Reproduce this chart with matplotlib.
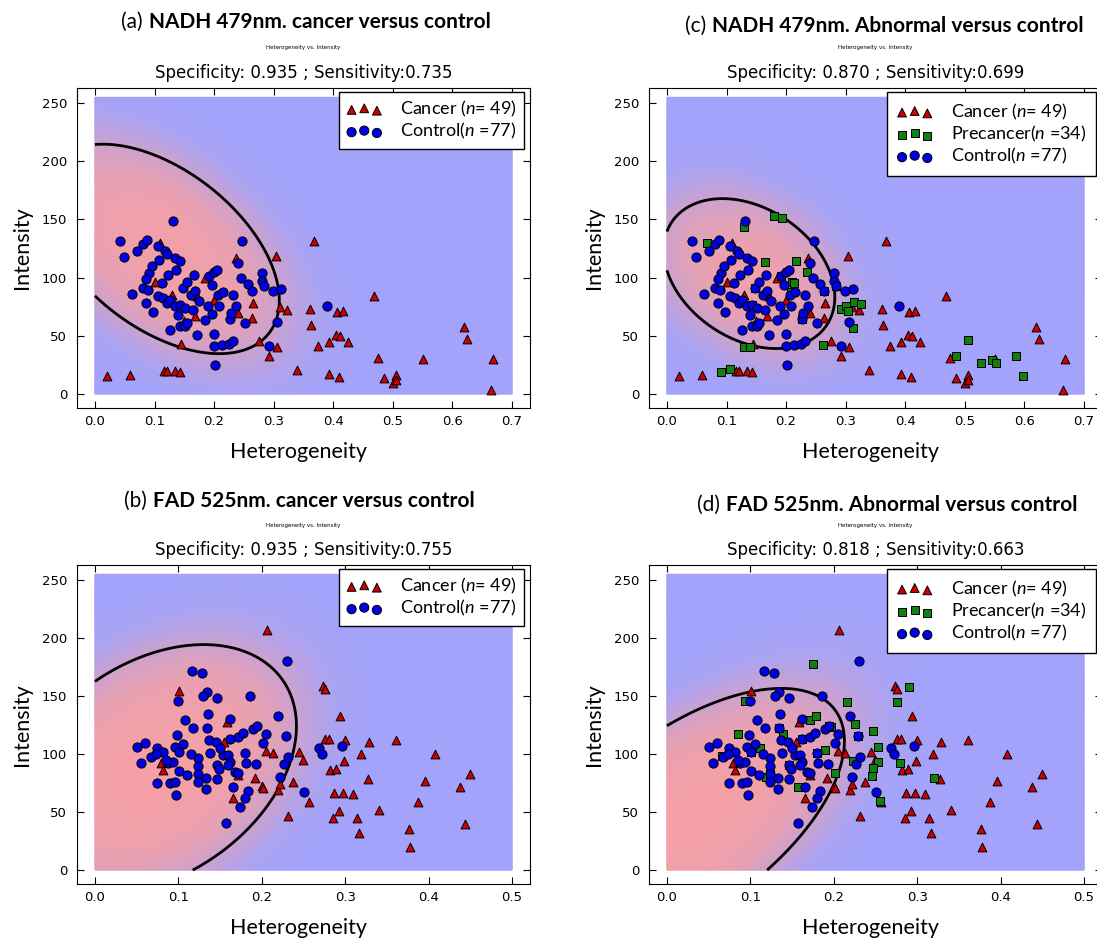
import numpy as np
import matplotlib

matplotlib.use("Agg")
import matplotlib.pyplot as plt
from matplotlib.colors import LinearSegmentedColormap

# ---- values ---------------------------------------------------------------
nadh_control_x = [0.131, 0.042, 0.049, 0.070, 0.080, 0.088, 0.105, 0.108, 0.117, 0.121,
                  0.134, 0.142, 0.136, 0.122, 0.090, 0.085, 0.081, 0.089, 0.085, 0.098,
                  0.106, 0.115, 0.121, 0.126, 0.134, 0.140, 0.143, 0.148, 0.151, 0.143,
                  0.151, 0.126, 0.155, 0.164, 0.162, 0.168, 0.167, 0.171, 0.185, 0.190,
                  0.192, 0.197, 0.200, 0.205, 0.197, 0.207, 0.208, 0.200, 0.200, 0.214,
                  0.225, 0.232, 0.201, 0.227, 0.229, 0.236, 0.232, 0.240, 0.247, 0.252,
                  0.257, 0.264, 0.281, 0.280, 0.283, 0.299, 0.313, 0.305, 0.292, 0.389,
                  0.063, 0.112, 0.175, 0.215, 0.245, 0.095, 0.155]
nadh_control_y = [148.3, 131.1, 117.4, 123.1, 128.9, 132.3, 127.4, 114.8, 122.6, 120.6,
                  116.8, 114.0, 106.8, 102.0, 104.0, 99.1, 91.1, 89.6, 78.2, 70.2,
                  83.9, 82.5, 78.2, 81.0, 75.3, 68.1, 76.7, 91.1, 73.9, 58.1,
                  58.1, 55.2, 61.0, 71.9, 85.3, 88.2, 102.0, 50.9, 63.8, 75.9,
                  101.7, 94.0, 104.5, 106.8, 69.0, 84.8, 75.9, 51.5, 41.5, 42.4,
                  42.9, 45.2, 25.2, 64.4, 69.6, 75.3, 84.8, 112.5, 131.7, 61.0,
                  94.5, 88.2, 104.0, 96.8, 92.5, 88.2, 90.2, 61.5, 41.5, 75.3,
                  86.0, 95.0, 80.0, 88.0, 100.0, 110.0, 96.0]

nadh_cancer_x = [0.021, 0.059, 0.109, 0.101, 0.116, 0.121, 0.135, 0.143, 0.145, 0.171,
                 0.168, 0.236, 0.199, 0.265, 0.263, 0.275, 0.292, 0.305, 0.304, 0.310,
                 0.323, 0.339, 0.361, 0.362, 0.368, 0.374, 0.392, 0.393, 0.404, 0.407,
                 0.411, 0.417, 0.409, 0.424, 0.468, 0.475, 0.485, 0.501, 0.505, 0.506,
                 0.551, 0.619, 0.625, 0.668, 0.664, 0.150, 0.130, 0.240, 0.185]
nadh_cancer_y = [15.7, 16.6, 130.2, 95.9, 20.0, 20.0, 20.0, 18.6, 43.2, 83.9,
                 66.7, 116.8, 81.0, 78.1, 65.2, 45.2, 32.9, 40.3, 118.2, 74.7,
                 71.8, 20.8, 73.2, 58.9, 131.1, 40.9, 44.6, 17.4, 50.9, 70.1,
                 49.5, 71.0, 14.6, 44.6, 84.4, 30.9, 13.7, 9.4, 16.6, 12.3,
                 30.0, 57.5, 47.2, 30.0, 3.1, 62.4, 85.0, 70.0, 100.0]

nadh_pre_x = [0.179, 0.193, 0.130, 0.068, 0.164, 0.216, 0.235, 0.210, 0.214, 0.208,
              0.292, 0.301, 0.314, 0.325, 0.304, 0.312, 0.262, 0.129, 0.139, 0.090,
              0.106, 0.506, 0.485, 0.527, 0.545, 0.553, 0.585, 0.597,
              0.148, 0.192, 0.264, 0.143, 0.227, 0.283]
nadh_pre_y = [152.6, 151.7, 143.4, 129.7, 113.1, 114.5, 104.5, 95.9, 95.3, 88.1,
              73.3, 75.8, 78.7, 77.5, 71.0, 56.6, 41.8, 40.0, 40.3, 18.6,
              21.4, 46.6, 32.3, 26.6, 29.4, 27.1, 32.3, 15.1,
              91.1, 101.7, 88.2, 76.7, 64.4, 92.5]

fad_control_x = [0.116, 0.128, 0.134, 0.130, 0.146, 0.100, 0.186, 0.230, 0.108, 0.117,
                 0.135, 0.134, 0.162, 0.219, 0.098, 0.105, 0.096, 0.101, 0.137, 0.145,
                 0.162, 0.172, 0.177, 0.189, 0.194, 0.205, 0.202, 0.229, 0.051, 0.060,
                 0.067, 0.074, 0.082, 0.073, 0.055, 0.087, 0.094, 0.124, 0.138, 0.154,
                 0.160, 0.162, 0.180, 0.124, 0.146, 0.149, 0.159, 0.168, 0.171, 0.181,
                 0.193, 0.101, 0.110, 0.123, 0.133, 0.123, 0.146, 0.074, 0.090, 0.096,
                 0.097, 0.133, 0.165, 0.184, 0.180, 0.174, 0.157, 0.222, 0.227, 0.231,
                 0.251, 0.269, 0.272, 0.296, 0.115, 0.150, 0.085]
fad_control_y = [171.8, 170.1, 153.7, 150.0, 148.0, 145.7, 150.0, 180.1, 129.3, 122.9,
                 134.4, 122.9, 130.1, 132.7, 116.3, 108.3, 106.3, 102.0, 112.1, 110.0,
                 112.9, 114.3, 118.4, 121.2, 124.1, 117.2, 109.2, 115.5, 105.7, 109.2,
                 97.7, 104.9, 102.0, 100.0, 91.9, 92.5, 93.3, 96.8, 100.5, 99.1,
                 99.1, 93.3, 100.5, 89.9, 90.5, 86.8, 90.5, 84.2, 83.3, 91.9,
                 91.1, 85.3, 81.9, 82.7, 79.8, 76.1, 78.4, 74.7, 74.7, 76.1,
                 64.6, 69.8, 71.2, 68.1, 61.8, 54.0, 40.2, 80.4, 91.3, 97.7,
                 67.5, 104.9, 100.0, 107.2, 100.0, 105.0, 95.0]

fad_cancer_x = [0.206, 0.101, 0.158, 0.079, 0.082, 0.205, 0.213, 0.171, 0.192, 0.200,
                0.201, 0.166, 0.219, 0.222, 0.238, 0.245, 0.249, 0.232, 0.256, 0.273,
                0.276, 0.294, 0.276, 0.280, 0.300, 0.299, 0.282, 0.289, 0.286, 0.297,
                0.309, 0.293, 0.285, 0.314, 0.316, 0.319, 0.327, 0.329, 0.341, 0.361,
                0.376, 0.378, 0.387, 0.396, 0.408, 0.438, 0.450, 0.443, 0.155]
fad_cancer_y = [206.9, 154.6, 127.3, 92.5, 86.2, 102.6, 100.6, 81.9, 79.0, 72.4,
                70.4, 61.8, 69.0, 73.8, 75.6, 102.0, 94.8, 46.5, 58.9, 158.6,
                155.7, 133.0, 112.6, 112.6, 112.0, 94.2, 86.2, 87.1, 66.6, 66.6,
                65.2, 51.1, 45.1, 44.5, 32.2, 99.7, 78.4, 110.0, 51.7, 112.0,
                35.3, 20.1, 58.9, 77.0, 99.7, 71.2, 82.7, 39.6, 110.0]

fad_pre_x = [0.175, 0.093, 0.216, 0.276, 0.290, 0.085, 0.112, 0.139, 0.172, 0.179,
             0.197, 0.190, 0.225, 0.247, 0.253, 0.223, 0.253, 0.247, 0.246, 0.255,
             0.279, 0.202, 0.157, 0.119, 0.066, 0.320,
             0.134, 0.162, 0.146, 0.101, 0.180, 0.123, 0.229, 0.194]
fad_pre_y = [177.6, 146.0, 144.5, 145.1, 157.4, 117.2, 105.4, 117.2, 129.3, 132.7,
             123.5, 103.4, 125.6, 119.8, 106.3, 94.0, 92.8, 87.6, 81.3, 59.5,
             92.5, 83.3, 71.8, 80.4, 98.5, 79.0,
             122.9, 112.9, 90.5, 102.0, 100.5, 82.7, 115.5, 124.1]

# decision boundaries (where the black curve runs)
bound_a_x = [0.0, 0.031, 0.087, 0.143, 0.199, 0.254, 0.288, 0.309, 0.302, 0.277, 0.243,
             0.187, 0.143, 0.087, 0.031, 0.0]
bound_a_y = [213.3, 215.6, 208.4, 194.1, 174.1, 146.9, 124.0, 87.0, 63.8, 46.6, 36.6,
             33.7, 39.5, 53.8, 72.4, 82.4]
bound_b_x = [0.0, 0.042, 0.082, 0.130, 0.174, 0.214, 0.236, 0.242, 0.234, 0.214, 0.182,
             0.150, 0.116]
bound_b_y = [164.3, 177.6, 189.1, 195.4, 191.1, 172.4, 143.7, 120.7, 91.9, 63.2, 34.5,
             14.3, 0.0]
bound_c_x = [0.0, 0.022, 0.056, 0.101, 0.157, 0.213, 0.252, 0.277, 0.280, 0.269, 0.241,
             0.202, 0.157, 0.112, 0.056, 0.017, 0.0]
bound_c_y = [139.7, 156.9, 165.5, 166.9, 161.2, 145.5, 125.4, 101.1, 78.2, 61.0, 46.7,
             39.5, 39.5, 46.7, 66.7, 86.7, 106.8]
bound_d_x = [0.0, 0.040, 0.080, 0.130, 0.162, 0.192, 0.206, 0.212, 0.204, 0.188, 0.164,
             0.120]
bound_d_y = [125.8, 137.9, 148.5, 158.0, 156.5, 145.0, 125.0, 99.0, 79.0, 57.5, 33.0,
             0.0]

specificity = [0.935, 0.935, 0.870, 0.818]
sensitivity = [0.735, 0.755, 0.699, 0.663]
panel_tags = ["(a)", "(b)", "(c)", "(d)"]
panel_titles = ["NADH 479nm. cancer versus control", "FAD 525nm. cancer versus control",
                "NADH 479nm. Abnormal versus control", "FAD 525nm. Abnormal versus control"]

PINK = "#f7a0a3"
LAVENDER = "#a3a3fb"
LABEL_FONT = "Lato"

plt.rcParams["mathtext.fontset"] = "custom"
plt.rcParams["mathtext.it"] = "Lato:italic"
plt.rcParams["mathtext.rm"] = "Lato"

cmap = LinearSegmentedColormap.from_list("red_blue_classes", [PINK, LAVENDER])


def fit_ellipse(x, y):
    # direct least squares ellipse fit (Halir & Flusser)
    D1 = np.column_stack([x * x, x * y, y * y])
    D2 = np.column_stack([x, y, np.ones_like(x)])
    S1 = D1.T @ D1
    S2 = D1.T @ D2
    S3 = D2.T @ D2
    T = -np.linalg.solve(S3, S2.T)
    M = S1 + S2 @ T
    M = np.array([M[2] / 2, -M[1], M[0] / 2])
    _, vecs = np.linalg.eig(M)
    vecs = vecs.real
    cond = 4 * vecs[0] * vecs[2] - vecs[1] ** 2
    a1 = vecs[:, cond > 0][:, 0]
    return np.concatenate([a1, T @ a1])


def conic(u, v, c):
    return c[0] * u * u + c[1] * u * v + c[2] * v * v + c[3] * u + c[4] * v + c[5]


def posterior_field(bx, by, xmax, ref_x, ref_y, sharp=19.0):
    bu = np.asarray(bx) / xmax
    bv = np.asarray(by) / 255.0
    c = fit_ellipse(bu, bv)
    gu = 2 * c[0] * bu + c[1] * bv + c[3]
    gv = c[1] * bu + 2 * c[2] * bv + c[4]
    c = c / np.mean(np.hypot(gu, gv))
    if conic(np.mean(ref_x) / xmax, np.mean(ref_y) / 255.0, c) > 0:
        c = -c
    xx, yy = np.meshgrid(np.linspace(0, xmax, 300), np.linspace(0, 255, 300))
    F = conic(xx / xmax, yy / 255.0, c)
    return xx, yy, 1.0 / (1.0 + np.exp(-sharp * F))


def draw_panel(ax, xmax, bx, by, cancer, control, pre=None):
    xx, yy, Z = posterior_field(bx, by, xmax, control[0], control[1])
    ax.pcolormesh(xx, yy, Z, cmap=cmap, vmin=0, vmax=1, shading="gouraud",
                  zorder=0, rasterized=True)
    ax.contour(xx, yy, Z, levels=[0.5], colors="k", linewidths=2, zorder=2)

    ax.scatter(cancer[0], cancer[1], s=40, marker="^", c="#cc0000",
               edgecolors="k", linewidths=0.7, zorder=3,
               label=r"Cancer ($\mathit{n}$= 49)")
    if pre is not None:
        ax.scatter(pre[0], pre[1], s=32, marker="s", c="#118011",
                   edgecolors="k", linewidths=0.7, zorder=3,
                   label=r"Precancer($\mathit{n}$ =34)")
    ax.scatter(control[0], control[1], s=44, marker="o", c="#0000e6",
               edgecolors="k", linewidths=0.7, zorder=3,
               label=r"Control($\mathit{n}$ =77)")

    ax.set_xlim(-0.043 * xmax, 1.043 * xmax)
    ax.set_ylim(-12, 263)
    ax.set_xticks(np.round(np.arange(0, xmax + 1e-9, 0.1), 1))
    ax.set_yticks([0, 50, 100, 150, 200, 250])
    ax.tick_params(direction="in", top=True, right=True, length=5, width=0.8,
                   labelsize=9.5)
    ax.tick_params(axis="x", pad=5)
    ax.tick_params(axis="y", pad=7)

    three_rows = pre is not None
    leg = ax.legend(loc="upper right", bbox_to_anchor=(0.987, 0.988),
                    borderaxespad=0, scatterpoints=3,
                    scatteryoffsets=[0.375, 0.5, 0.3125],
                    fancybox=False, framealpha=1,
                    borderpad=0.55 if three_rows else 0.4,
                    handlelength=2.0, handletextpad=1.0,
                    labelspacing=0.12,
                    prop={"family": LABEL_FONT, "size": 13})
    leg.get_frame().set_edgecolor("k")
    leg.get_frame().set_linewidth(1.0)

    ax.text(0.49, -44 / 320, "Heterogeneity", transform=ax.transAxes, ha="center",
            va="center", family=LABEL_FONT, fontsize=15.5)
    ax.text(-55 / 453, 0.5, "Intensity", transform=ax.transAxes, ha="center",
            va="center", rotation=90, family=LABEL_FONT, fontsize=15.5)
    ax.text(0.5, 1 + 40 / 320, "Heterogeneity vs. Intensity", transform=ax.transAxes,
            ha="center", va="center", fontsize=4)


fig = plt.figure(figsize=(10.97, 9.39), dpi=100)
W, H = 1097.0, 939.0
ax_a = fig.add_axes([77 / W, 1 - 408 / H, 453 / W, 320 / H])
ax_c = fig.add_axes([649 / W, 1 - 408 / H, 453 / W, 320 / H])
ax_b = fig.add_axes([77 / W, 1 - 884 / H, 453 / W, 319 / H])
ax_d = fig.add_axes([649 / W, 1 - 884 / H, 453 / W, 319 / H])

nadh_cancer = (nadh_cancer_x, nadh_cancer_y)
nadh_control = (nadh_control_x, nadh_control_y)
fad_cancer = (fad_cancer_x, fad_cancer_y)
fad_control = (fad_control_x, fad_control_y)

draw_panel(ax_a, 0.7, bound_a_x, bound_a_y, nadh_cancer, nadh_control)
draw_panel(ax_b, 0.5, bound_b_x, bound_b_y, fad_cancer, fad_control)
draw_panel(ax_c, 0.7, bound_c_x, bound_c_y, nadh_cancer, nadh_control,
           (nadh_pre_x, nadh_pre_y))
draw_panel(ax_d, 0.5, bound_d_x, bound_d_y, fad_cancer, fad_control,
           (fad_pre_x, fad_pre_y))

for ax, sp, se in zip([ax_a, ax_b, ax_c, ax_d], specificity, sensitivity):
    ax.set_title(f"Specificity: {sp:.3f} ; Sensitivity:{se:.3f}", fontsize=12, pad=7)

# panel headings: normal tag + bold description, centred as one line
renderer = fig.canvas.get_renderer()
heading_pos = [(306, 22), (299, 501), (884, 26), (887, 505)]
for tag, title, (xc, yc) in zip(panel_tags, panel_titles, heading_pos):
    t1 = fig.text(0, 1 - yc / H, tag, family=LABEL_FONT, fontsize=15, va="center")
    t2 = fig.text(0, 1 - yc / H, title, family=LABEL_FONT, fontsize=15,
                  weight="bold", va="center")
    w1 = t1.get_window_extent(renderer).width
    w2 = t2.get_window_extent(renderer).width
    gap = 6
    x0 = xc - (w1 + gap + w2) / 2
    t1.set_x(x0 / W)
    t2.set_x((x0 + w1 + gap) / W)

fig.savefig("out.png", dpi=100)
